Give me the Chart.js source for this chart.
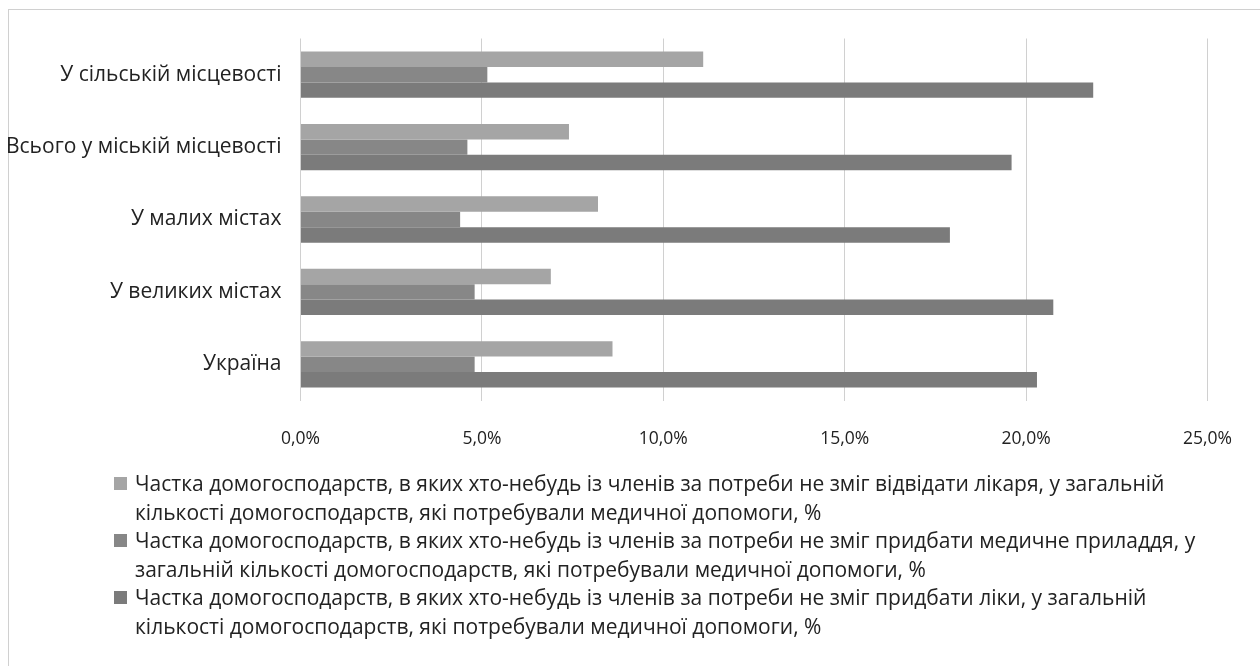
<!DOCTYPE html>
<html lang="uk">
<head>
<meta charset="utf-8">
<script src="https://cdn.jsdelivr.net/npm/chart.js@4"></script>
<style>
  body { margin: 0; background: #fff; font-family: "Open Sans", sans-serif; }
  #wrap { position: relative; width: 1260px; height: 666px; overflow: hidden; }
  #frame { position: absolute; left: 8px; top: 9px; width: 1300px; height: 700px; border: 1px solid #d0d0d0; box-sizing: border-box; }
  #chartBox { position: absolute; left: 0; top: 0; width: 1260px; height: 470px; }
  #legend { position: absolute; left: 114px; top: 469px; font-size: 21px; color: #222; line-height: 28.5px; }
  .item { display: flex; align-items: flex-start; }
  .swatch { width: 13px; height: 13px; margin-top: 8px; margin-right: 8px; flex: none; }
</style>
</head>
<body>
<div id="wrap">
  <div id="frame"></div>
  <div id="chartBox"><canvas id="chart"></canvas></div>
  <div id="legend"></div>
</div>
<script>
// categories, top to bottom
const categories = [
  "У сільській місцевості",
  "Всього у міській місцевості",
  "У малих містах",
  "У великих містах",
  "Україна"
];

const seriesNames = [
  ["Частка домогосподарств, в яких хто-небудь із членів за потреби не зміг відвідати лікаря, у загальній",
   "кількості домогосподарств, які потребували медичної допомоги, %"],
  ["Частка домогосподарств, в яких хто-небудь із членів за потреби не зміг придбати медичне приладдя, у",
   "загальній кількості домогосподарств, які потребували медичної допомоги, %"],
  ["Частка домогосподарств, в яких хто-небудь із членів за потреби не зміг придбати ліки, у загальній",
   "кількості домогосподарств, які потребували медичної допомоги, %"]
];

const doctorValues = [11.1, 7.4, 8.2, 6.9, 8.6];
const deviceValues = [5.15, 4.6, 4.4, 4.8, 4.8];
const medicineValues = [21.85, 19.6, 17.9, 20.75, 20.3];

const seriesColors = ["#a5a5a5", "#878787", "#7b7b7b"];
const xTicks = [0, 5, 10, 15, 20, 25];

const fontFamily = "'Open Sans', sans-serif";

const ctx = document.getElementById("chart");
new Chart(ctx, {
  type: "bar",
  data: {
    labels: categories,
    datasets: [doctorValues, deviceValues, medicineValues].map((vals, i) => ({
      label: seriesNames[i].join(" "),
      data: vals,
      backgroundColor: seriesColors[i],
      barPercentage: 1,
      categoryPercentage: 0.64
    }))
  },
  options: {
    indexAxis: "y",
    responsive: true,
    maintainAspectRatio: false,
    animation: false,
    layout: { padding: { top: 38.5, right: 49.7, left: 0, bottom: 0 } },
    plugins: { legend: { display: false }, tooltip: { enabled: false } },
    scales: {
      x: {
        min: 0,
        max: 25,
        afterBuildTicks: s => { s.ticks = xTicks.map(v => ({ value: v })); },
        afterFit: s => { s.height = 470 - 400.5; },
        grid: { color: "#d0d0d0", drawTicks: false },
        border: { display: false },
        ticks: {
          padding: 28,
          color: "#222",
          font: { family: fontFamily, size: 17.5 },
          callback: v => v.toFixed(1).replace(".", ",") + "%"
        }
      },
      y: {
        afterFit: s => { s.width = 300.5; },
        grid: { display: false },
        border: { display: false },
        ticks: {
          padding: 11,
          color: "#222",
          font: { family: fontFamily, size: 21 }
        }
      }
    }
  }
});

// legend
const legend = document.getElementById("legend");
seriesNames.forEach((lines, i) => {
  const row = document.createElement("div");
  row.className = "item";
  row.innerHTML = `<span class="swatch" style="background:${seriesColors[i]}"></span><span>${lines.join("<br>")}</span>`;
  legend.appendChild(row);
});
</script>
</body>
</html>
